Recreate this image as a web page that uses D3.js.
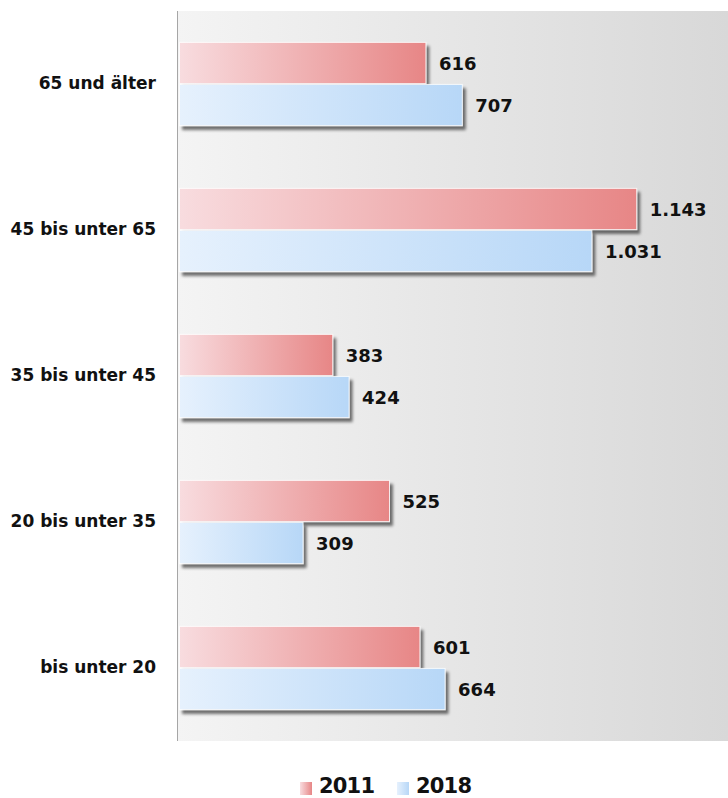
<!DOCTYPE html>
<html><head><meta charset="utf-8">
<script src="https://cdn.jsdelivr.net/npm/d3@7"></script>
<style>
html,body{margin:0;padding:0;background:#fff;}
svg{display:block;}
</style>
</head><body>
<svg id="chart" width="728" height="798"></svg>
<script>
const categories = ["65 und älter", "45 bis unter 65", "35 bis unter 45", "20 bis unter 35", "bis unter 20"];
const seriesNames = ["2011", "2018"];
const values2011 = [616, 1143, 383, 525, 601];
const values2018 = [707, 1031, 424, 309, 664];

const W = 728, H = 798;
const plot = {left: 177, top: 11, right: 728, bottom: 741};
const FONT = "'Century Gothic', 'DejaVu Sans', sans-serif";

const de = d3.formatLocale({decimal: ",", thousands: ".", grouping: [3], currency: ["", " €"]});
const fmt = de.format(",d");

const svg = d3.select("#chart");
const defs = svg.append("defs");

function linGrad(id, c0, c1) {
  const g = defs.append("linearGradient").attr("id", id).attr("x1", "0%").attr("x2", "100%").attr("y1", "0%").attr("y2", "0%");
  g.append("stop").attr("offset", "0%").attr("stop-color", c0);
  g.append("stop").attr("offset", "100%").attr("stop-color", c1);
}
linGrad("bg", "#f4f4f4", "#d8d8d8");
linGrad("g2011", "#f8dcdf", "#e78686");
linGrad("g2018", "#e6f1fd", "#b7d7f7");

const f = defs.append("filter").attr("id", "shadow").attr("x", "-5%").attr("y", "-20%").attr("width", "115%").attr("height", "160%");
f.append("feGaussianBlur").attr("in", "SourceAlpha").attr("stdDeviation", 1.6).attr("result", "b");
f.append("feOffset").attr("in", "b").attr("dx", 3).attr("dy", 4).attr("result", "o");
f.append("feComponentTransfer").attr("in", "o").attr("result", "o2")
  .append("feFuncA").attr("type", "linear").attr("slope", 0.55);
const m = f.append("feMerge");
m.append("feMergeNode").attr("in", "o2");
m.append("feMergeNode").attr("in", "SourceGraphic");

// plot background
svg.append("rect").attr("x", plot.left).attr("y", plot.top)
  .attr("width", plot.right - plot.left).attr("height", plot.bottom - plot.top)
  .attr("fill", "url(#bg)");

const x = d3.scaleLinear().domain([0, 1370]).range([179.5, 727.5]);
const y = d3.scaleBand().domain(categories).range([plot.top, plot.bottom]).paddingInner(0.43).paddingOuter(0.215);
const y1 = d3.scaleBand().domain(seriesNames).range([0, y.bandwidth()]).paddingInner(0.02);

const data = categories.map((c, i) => ({cat: c, vals: [
  {s: "2011", v: values2011[i]},
  {s: "2018", v: values2018[i]}
]}));

const groups = svg.selectAll("g.grp").data(data).join("g").attr("class", "grp")
  .attr("transform", d => `translate(0,${y(d.cat)})`);

groups.selectAll("rect.bar").data(d => d.vals).join("rect").attr("class", "bar")
  .attr("x", x(0))
  .attr("y", d => y1(d.s))
  .attr("width", d => x(d.v) - x(0))
  .attr("height", y1.bandwidth())
  .attr("fill", d => `url(#g${d.s})`)
  .attr("stroke", "#ffffff").attr("stroke-opacity", 0.8).attr("stroke-width", 1)
  .attr("filter", "url(#shadow)");

groups.selectAll("text.val").data(d => d.vals).join("text").attr("class", "val")
  .attr("x", d => x(d.v) + 13)
  .attr("y", d => y1(d.s) + y1.bandwidth() / 2)
  .attr("dy", "0.38em")
  .attr("font-family", FONT).attr("font-weight", "bold").attr("font-size", 18)
  .attr("fill", "#111")
  .text(d => fmt(d.v));

// y axis
const yAxis = d3.axisLeft(y).tickSize(0).tickPadding(21);
const ga = svg.append("g").attr("transform", `translate(${plot.left},0)`).call(yAxis);
ga.select(".domain").attr("stroke", "#a6a6a6").attr("d", `M0.5,${plot.top}V${plot.bottom}`);
ga.selectAll("text").attr("font-family", FONT).attr("font-weight", "bold").attr("font-size", 17).attr("fill", "#111");

// legend
const legend = svg.append("g");
const legendItems = [{s: "2011", x: 300}, {s: "2018", x: 397}];
const li = legend.selectAll("g").data(legendItems).join("g").attr("transform", d => `translate(${d.x},782)`);
li.append("rect").attr("width", 12).attr("height", 13).attr("fill", d => `url(#g${d.s})`);
li.append("text").attr("x", 19).attr("y", 11).attr("font-family", FONT).attr("font-weight", "bold")
  .attr("font-size", 21).attr("letter-spacing", -0.8).attr("fill", "#111").text(d => d.s);
</script>
</body></html>
